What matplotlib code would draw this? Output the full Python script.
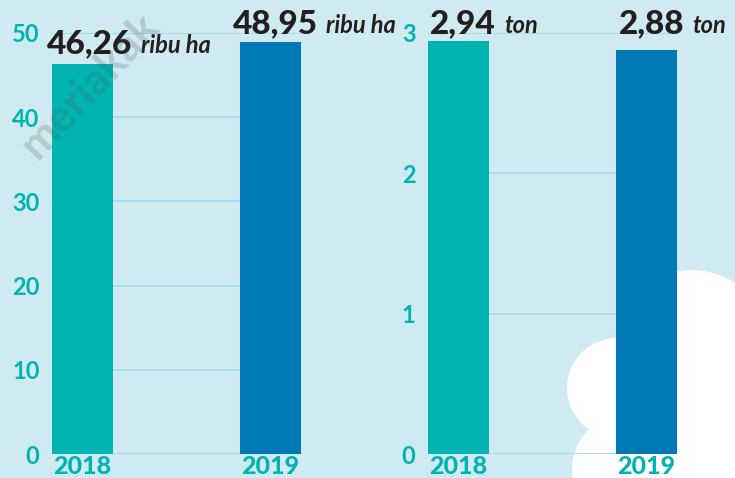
import numpy as np
import matplotlib
matplotlib.use('Agg')
import matplotlib.pyplot as plt
from matplotlib.patches import Circle, Rectangle

# data
years = ['2018', '2019']
luas = [46.26, 48.95]
luas_lbl = ['46,26', '48,95']
prod = [2.94, 2.88]
prod_lbl = ['2,94', '2,88']
luas_ticks = [0, 10, 20, 30, 40, 50]
prod_ticks = [0, 1, 2, 3]

bg = '#cfeaf0'
teal = '#00b4b2'
blue = '#0079b6'
grid_c = '#9fdbe2'
ink = '#231f20'

W, H = 735, 478
fig = plt.figure(figsize=(W/100, H/100), dpi=100)
fig.patch.set_facecolor(bg)

# background layer: cloud (pixel coords)
bgax = fig.add_axes([0, 0, 1, 1])
bgax.set_xlim(0, W)
bgax.set_ylim(H, 0)
bgax.axis('off')
bgax.set_zorder(0)
for cx, cy, r in [(692, 347, 77), (617, 388, 50), (630, 470, 58)]:
    bgax.add_patch(Circle((cx, cy), r, color='white', lw=0))
bgax.add_patch(Rectangle((660, 345), 80, 140, color='white', lw=0))

def panel(left, vals, lbls, ticks, top, unit, num_dx, num_dy):
    ax = fig.add_axes([left/W, (H-454)/H, 249/W, (454-33)/H])
    ax.set_zorder(1)
    ax.patch.set_alpha(0)
    x = np.arange(len(vals))
    w = 61/187
    for t in ticks:
        ax.axhline(t, color=grid_c, lw=1.2, zorder=1)
    ax.bar(x, vals, width=w, color=[teal, blue], zorder=2)
    ax.set_xlim(-w/2, 1+w/2)
    ax.set_ylim(0, top)
    for s in ax.spines.values():
        s.set_visible(False)
    ax.set_yticks(ticks)
    ax.set_yticklabels([str(t) for t in ticks], family='Lato', fontweight='bold',
                       fontsize=17, color=teal)
    ax.set_xticks(x)
    ax.set_xticklabels(years, family='Lato', fontweight='black', fontsize=18, color=teal)
    ax.tick_params(axis='y', length=0, pad=9)
    ax.tick_params(axis='x', length=0, pad=1)
    for i in range(len(vals)):
        t = ax.annotate(lbls[i], xy=(x[i]-w/2, vals[i]), xytext=(num_dx[i]*0.72, num_dy[i]*0.72),
                        textcoords='offset points', ha='left', va='baseline',
                        family='Lato', fontweight='black', fontsize=24, color=ink,
                        annotation_clip=False)
        ax.annotate(unit, xy=(1, vals[i]), xycoords=(t, 'data'),
                    xytext=(6, num_dy[i]*0.72), textcoords='offset points',
                    ha='left', va='baseline', family='Lato', fontweight='bold',
                    style='italic', fontsize=17, color=ink, annotation_clip=False)
    return ax

panel(52, luas, luas_lbl, luas_ticks, 50, 'ribu ha', [-5, -7], [11, 9])
panel(428, prod, prod_lbl, prod_ticks, 3, 'ton', [2, 3], [8.5, 17])

# watermark
wm = fig.add_axes([0, 0, 1, 1])
wm.set_xlim(0, W)
wm.set_ylim(H, 0)
wm.axis('off')
wm.set_zorder(3)
wm.text(90, 86, 'meriakak', rotation=47, ha='center', va='center', fontsize=32,
        fontweight='bold', family='Lato', color='#4a5a5e', alpha=0.22)

fig.savefig('out.png', dpi=100, facecolor=bg)
